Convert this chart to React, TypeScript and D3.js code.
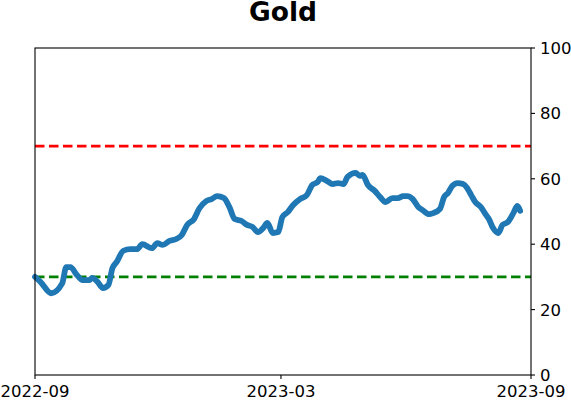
import * as d3 from 'd3';

// Gold – indicator line, Sep 2022 to Aug 2023
const dates = [
  '2022-09-01', '2022-09-05', '2022-09-13', '2022-09-21', '2022-09-24', '2022-09-27',
  '2022-10-02', '2022-10-06', '2022-10-11', '2022-10-13', '2022-10-17', '2022-10-21',
  '2022-10-25', '2022-10-28', '2022-10-31', '2022-11-05', '2022-11-10', '2022-11-15',
  '2022-11-19', '2022-11-26', '2022-11-30', '2022-12-04', '2022-12-09', '2022-12-14',
  '2022-12-18', '2022-12-22', '2022-12-27', '2022-12-31', '2023-01-05', '2023-01-09',
  '2023-01-13', '2023-01-18', '2023-01-22', '2023-01-26', '2023-01-31', '2023-02-04',
  '2023-02-08', '2023-02-12', '2023-02-16', '2023-02-19', '2023-02-23', '2023-02-27',
  '2023-03-02', '2023-03-06', '2023-03-10', '2023-03-15', '2023-03-20', '2023-03-24',
  '2023-03-28', '2023-03-30', '2023-04-04', '2023-04-08', '2023-04-12', '2023-04-16',
  '2023-04-19', '2023-04-25', '2023-04-28', '2023-04-30', '2023-05-04', '2023-05-09',
  '2023-05-13', '2023-05-17', '2023-05-22', '2023-05-26', '2023-05-30', '2023-06-02',
  '2023-06-06', '2023-06-10', '2023-06-13', '2023-06-18', '2023-06-21', '2023-06-26',
  '2023-06-29', '2023-07-02', '2023-07-05', '2023-07-09', '2023-07-13', '2023-07-16',
  '2023-07-19', '2023-07-22', '2023-07-26', '2023-07-30', '2023-08-01', '2023-08-04',
  '2023-08-08', '2023-08-11', '2023-08-15', '2023-08-19', '2023-08-22', '2023-08-24',
];
const values = [
  30, 28.5, 25, 28, 33, 33,
  30.5, 29, 29, 29.7, 28.5, 26.6,
  27.5, 32.7, 34.5, 38, 38.5, 38.5,
  40, 38.8, 40.3, 39.8, 41, 41.6,
  42.8, 45.9, 47.7, 51, 53.2, 53.8,
  54.7, 54.1, 51.4, 47.7, 47.1, 45.9,
  45.3, 43.7, 45, 46.5, 43.4, 43.7,
  48.3, 49.8, 52, 53.8, 55, 58.1,
  59, 60.2, 59.3, 58.4, 58.7, 58.4,
  60.6, 61.8, 60.9, 61.2, 58.1, 56.3,
  54.4, 52.9, 54.1, 54.1, 54.7, 54.7,
  53.8, 51.4, 50.5, 49.2, 49.5, 50.8,
  54.4, 55.7, 57.8, 58.7, 58.4, 57.2,
  55, 52.9, 51.4, 48.9, 47.7, 45,
  43.4, 45.9, 46.8, 49.5, 51.7, 50.2,
];
const yTicks = [0, 20, 40, 60, 80, 100];
const xTicks = ['2022-09', '2023-03', '2023-09'];
const upperLevel = 70;
const lowerLevel = 30;

export default function App() {
  const width = 571;
  const height = 402;
  const margin = { top: 48, right: 40, bottom: 27, left: 35 };
  const parse = d3.timeParse('%Y-%m-%d');
  const parseMonth = d3.timeParse('%Y-%m');

  const x = d3.scaleTime()
    .domain([parseMonth('2022-09')!, parseMonth('2023-09')!])
    .range([margin.left, width - margin.right]);
  const y = d3.scaleLinear()
    .domain([0, 100])
    .range([height - margin.bottom, margin.top]);

  const points = dates.map((d, i) => ({ date: parse(d)!, value: values[i] }));
  const line = d3.line<{ date: Date; value: number }>()
    .x(d => x(d.date))
    .y(d => y(d.value))
    .curve(d3.curveMonotoneX);

  const [x0, x1] = x.range();
  const [yb, yt] = y.range();
  const font = 'DejaVu Sans, sans-serif';

  return (
    <svg width={width} height={height} style={{ position: 'absolute', left: 0, top: 0 }}
      fontFamily={font}>
      <rect width={width} height={height} fill="#fff" />
      <text x={(x0 + x1) / 2} y={21} textAnchor="middle" fontSize={26.5} fontWeight="bold">Gold</text>

      <line x1={x0} x2={x1} y1={y(upperLevel)} y2={y(upperLevel)}
        stroke="#ff0000" strokeWidth={2.6} strokeDasharray="9.5 4.5" />
      <line x1={x0} x2={x1} y1={y(lowerLevel)} y2={y(lowerLevel)}
        stroke="#008000" strokeWidth={2.6} strokeDasharray="9.5 4.5" />

      <path d={line(points) ?? ''} fill="none" stroke="#1f77b4" strokeWidth={5.8}
        strokeLinejoin="round" strokeLinecap="round" />

      <rect x={x0} y={yt} width={x1 - x0} height={yb - yt} fill="none" stroke="#000" strokeWidth={1.1} />

      {yTicks.map(t => (
        <g key={t}>
          <line x1={x1} x2={x1 + 4} y1={y(t)} y2={y(t)} stroke="#000" strokeWidth={1.1} />
          <text x={x1 + 9} y={y(t)} dy="0.36em" fontSize={16.5}>{t}</text>
        </g>
      ))}
      {xTicks.map(t => {
        const px = x(parseMonth(t)!);
        return (
          <g key={t}>
            <line x1={px} x2={px} y1={yb} y2={yb + 4} stroke="#000" strokeWidth={1.1} />
            <text x={px} y={yb + 22} textAnchor="middle" fontSize={16.5}>{t}</text>
          </g>
        );
      })}
    </svg>
  );
}
